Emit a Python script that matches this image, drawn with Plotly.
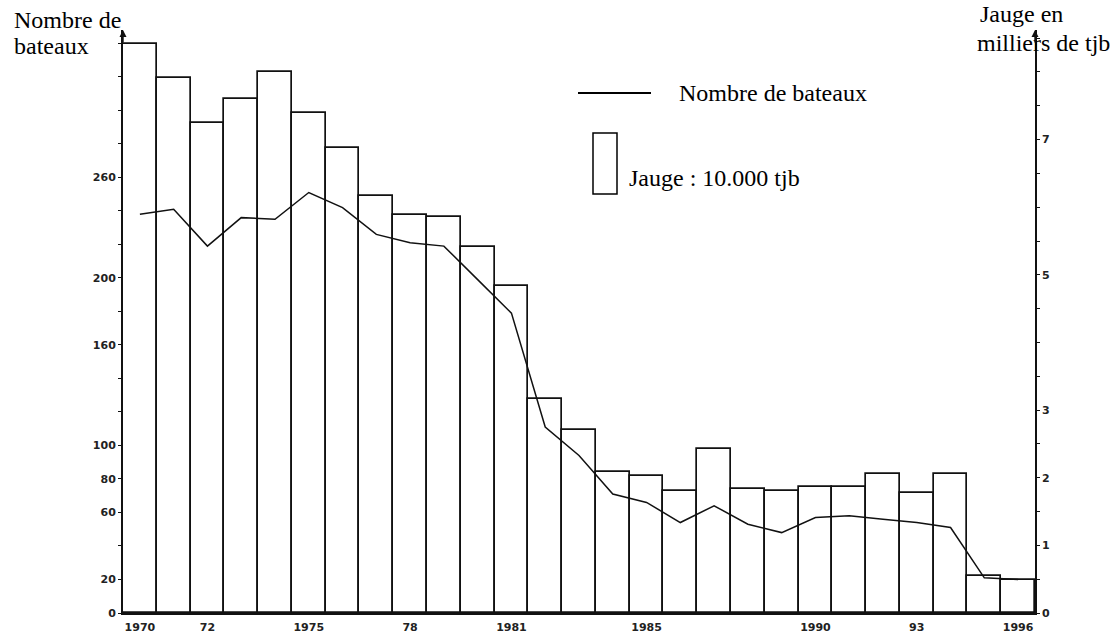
import plotly.graph_objects as go

# ---- data ----
years = list(range(1970, 1997))
# gross tonnage, thousands of tjb (right axis, bars)
jauge = [8.41, 7.91, 7.24, 7.60, 8.00, 7.39, 6.87, 6.16, 5.89, 5.85, 5.41, 4.83,
         3.16, 2.71, 2.09, 2.02, 1.80, 2.42, 1.83, 1.81, 1.87, 1.86, 2.05, 1.78,
         2.06, 0.55, 0.49]
# number of boats (left axis, line)
bateaux = [238, 241, 219, 236, 235, 251, 242, 226, 221, 219, 199, 179, 111, 94,
           71, 66, 54, 64, 53, 48, 57, 58, 56, 54, 51, 21, 20]

x_tickvals = [1970, 1972, 1975, 1978, 1981, 1985, 1990, 1993, 1996]
x_ticktext = ["1970", "72", "1975", "78", "1981", "1985", "1990", "93", "1996"]

left_tickvals = list(range(0, 341, 20))
left_labelled = [0, 20, 60, 80, 100, 160, 200, 260]
right_tickvals = [v / 2 for v in range(0, 18)]
right_labelled = [0, 1, 2, 3, 5, 7]

left_ticktext = [str(v) if v in left_labelled else "" for v in left_tickvals]
right_ticktext = [str(int(v)) if v in right_labelled else "" for v in right_tickvals]

TICKFONT = dict(family="DejaVu Sans", size=11, color="#222222", weight="bold")
SERIF = "Liberation Serif"

fig = go.Figure()
fig.add_trace(go.Bar(
    x=years, y=jauge, width=1, yaxis="y",
    marker=dict(color="white", line=dict(color="#111111", width=1.7)),
    showlegend=False,
))
fig.add_trace(go.Scatter(
    x=years, y=bateaux, yaxis="y2", mode="lines",
    line=dict(color="#111111", width=1.5),
    showlegend=False,
))

fig.update_layout(
    width=1114, height=635,
    margin=dict(l=123, r=79, t=30, b=22),
    paper_bgcolor="white", plot_bgcolor="white",
    bargap=0,
    xaxis=dict(
        range=[1969.5, 1996.5], tickvals=x_tickvals, ticktext=x_ticktext,
        showline=True, linecolor="#111111", linewidth=2, ticks="",
        ticklabelstandoff=3,
        showgrid=False, zeroline=False, tickfont=TICKFONT, automargin=False,
    ),
    yaxis=dict(
        side="right", range=[0, 8.62], tickvals=right_tickvals,
        ticktext=right_ticktext, showline=True, linecolor="#111111",
        linewidth=1.6, ticks="outside", ticklen=3, tickcolor="#111111",
        showgrid=False, zeroline=False, tickfont=TICKFONT, automargin=False,
    ),
    yaxis2=dict(
        side="left", overlaying="y", range=[0, 348], tickvals=left_tickvals,
        ticktext=left_ticktext, showline=True, linecolor="#111111",
        linewidth=2, ticks="outside", ticklen=3, tickcolor="#111111",
        showgrid=False, zeroline=False, tickfont=TICKFONT, automargin=False,
    ),
)

def px(xp):
    return (xp - 123) / 912.0

def py(yp):
    return (613 - yp) / 583.0

annotations = [
    dict(text="Nombre de", x=px(12), y=py(20), xanchor="left", yanchor="middle"),
    dict(text="bateaux", x=px(12), y=py(46), xanchor="left", yanchor="middle"),
    dict(text="Jauge en", x=px(978), y=py(14), xanchor="left", yanchor="middle"),
    dict(text="milliers de tjb", x=px(1112), y=py(43), xanchor="right", yanchor="middle"),
    dict(text="Nombre de bateaux", x=px(677), y=py(93), xanchor="left", yanchor="middle"),
    dict(text="Jauge : 10.000 tjb", x=px(627), y=py(178), xanchor="left", yanchor="middle"),
]
for a in annotations:
    a.update(xref="paper", yref="paper", showarrow=False,
             font=dict(family=SERIF, size=24, color="black"))

# axis arrowheads
for xa in (0, 1):
    annotations.append(dict(
        xref="paper", yref="paper", x=xa, y=1.0, ax=0, ay=14, text="",
        showarrow=True, arrowhead=2, arrowsize=1, arrowwidth=1.4,
        arrowcolor="#111111",
    ))
fig.update_layout(annotations=annotations)

# legend symbols
fig.add_shape(type="line", xref="paper", yref="paper",
              x0=px(578), x1=px(651), y0=py(93), y1=py(93),
              line=dict(color="black", width=2))
fig.add_shape(type="rect", xref="paper", yref="paper",
              x0=px(593), x1=px(617), y0=py(194), y1=py(133),
              line=dict(color="black", width=1.5), fillcolor="white")

fig.write_html(
    "out.html",
    config={"displayModeBar": False},
    post_script="document.body.style.margin='0';document.body.style.overflow='hidden';",
)
